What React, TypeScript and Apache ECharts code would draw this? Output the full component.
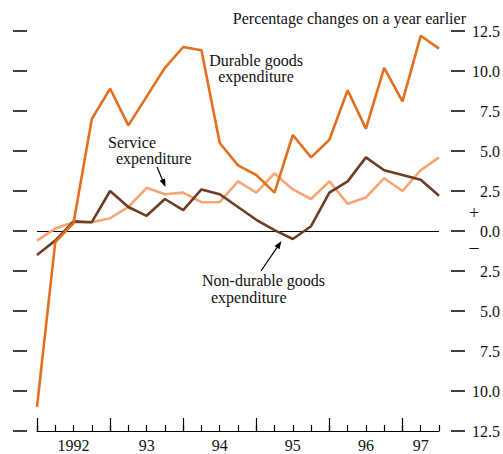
import React, { useEffect, useRef } from "react";
import * as echarts from "echarts";

const quarters = [
  "1992 Q1", "1992 Q2", "1992 Q3", "1992 Q4",
  "1993 Q1", "1993 Q2", "1993 Q3", "1993 Q4",
  "1994 Q1", "1994 Q2", "1994 Q3", "1994 Q4",
  "1995 Q1", "1995 Q2", "1995 Q3", "1995 Q4",
  "1996 Q1", "1996 Q2", "1996 Q3", "1996 Q4",
  "1997 Q1", "1997 Q2", "1997 Q3",
];

// label shown at the given category index
const yearLabelIndex = [2, 6, 10, 14, 18, 21];
const yearLabels = ["1992", "93", "94", "95", "96", "97"];

const durable = [-11.0, -0.7, 0.5, 7.0, 8.9, 6.6, 8.4, 10.2, 11.5, 11.3, 5.5, 4.1, 3.5, 2.4, 6.0, 4.6, 5.7, 8.8, 6.4, 10.2, 8.1, 12.2, 11.4];
const nonDurable = [-1.5, -0.6, 0.6, 0.55, 2.5, 1.5, 0.95, 2.0, 1.3, 2.6, 2.3, 1.5, 0.7, 0.05, -0.5, 0.3, 2.4, 3.1, 4.6, 3.8, 3.5, 3.2, 2.2];
const service = [-0.6, 0.15, 0.55, 0.55, 0.8, 1.5, 2.7, 2.3, 2.4, 1.8, 1.8, 3.1, 2.4, 3.6, 2.6, 2.0, 3.1, 1.7, 2.1, 3.3, 2.5, 3.8, 4.6];

const FONT = "'Liberation Serif', 'Times New Roman', serif";
const FS = 16;

function arrow(x1: number, y1: number, x2: number, y2: number) {
  const dx = x2 - x1;
  const dy = y2 - y1;
  const len = Math.sqrt(dx * dx + dy * dy);
  const ux = dx / len;
  const uy = dy / len;
  const hl = 8;
  const hw = 3;
  const bx = x2 - ux * hl;
  const by = y2 - uy * hl;
  return [
    {
      type: "line",
      shape: { x1, y1, x2: bx + ux * 2, y2: by + uy * 2 },
      style: { stroke: "#000", lineWidth: 1.2 },
      silent: true,
    },
    {
      type: "polygon",
      shape: {
        points: [
          [x2, y2],
          [bx - uy * hw, by + ux * hw],
          [bx + uy * hw, by - ux * hw],
        ],
      },
      style: { fill: "#000" },
      silent: true,
    },
  ];
}

function txt(x: number, y: number, text: string, align: string = "left", size: number = FS) {
  return {
    type: "text",
    x,
    y,
    silent: true,
    style: {
      text,
      fill: "#111",
      font: `${size}px ${FONT}`,
      textAlign: align,
      textVerticalAlign: "middle",
    },
  };
}

// two-line annotation; second line indented by `indent` px (left aligned) or centred
function txt2(x: number, y: number, l1: string, l2: string, align: string, indent: number, lh: number) {
  return {
    type: "text",
    x,
    y,
    silent: true,
    style: {
      text: `{a|${l1}}\n{b|${l2}}`,
      fill: "#111",
      font: `${FS}px ${FONT}`,
      textAlign: align,
      textVerticalAlign: "middle",
      rich: {
        a: { fontFamily: FONT, fontSize: FS, lineHeight: lh, fill: "#111" },
        b: { fontFamily: FONT, fontSize: FS, lineHeight: lh, fill: "#111", padding: [0, 0, 0, indent] },
      },
    },
  };
}

export default function App() {
  const ref = useRef<HTMLDivElement>(null);

  useEffect(() => {
    if (!ref.current) return;
    const chart = echarts.init(ref.current, undefined, { renderer: "svg" });

    const lineSeries = (name: string, data: number[], color: string, extra: any = {}) => ({
      name,
      type: "line",
      data,
      xAxisIndex: 0,
      yAxisIndex: 0,
      symbol: "none",
      lineStyle: { color, width: 2.6 },
      itemStyle: { color },
      z: 3,
      ...extra,
    });

    chart.setOption({
      animation: false,
      backgroundColor: "#fff",
      textStyle: { fontFamily: FONT },
      grid: { left: 37, right: 62, top: 31, bottom: 23 },
      xAxis: [
        {
          type: "category",
          data: quarters,
          boundaryGap: false,
          position: "bottom",
          axisLine: { show: true, onZero: false, lineStyle: { color: "#000", width: 1.2 } },
          axisTick: { show: true, inside: true, length: 6, interval: 0, lineStyle: { color: "#000", width: 1.2 } },
          axisLabel: {
            show: true,
            interval: 0,
            margin: 6,
            color: "#111",
            fontFamily: FONT,
            fontSize: FS,
            formatter: (_v: string, i: number) => {
              const k = yearLabelIndex.indexOf(i);
              return k >= 0 ? yearLabels[k] : "";
            },
          },
          splitLine: { show: false },
        },
        {
          type: "category",
          data: quarters,
          boundaryGap: false,
          position: "bottom",
          offset: 0,
          axisLine: { show: false, onZero: false },
          axisTick: { show: true, inside: true, length: 13, interval: 3, lineStyle: { color: "#000", width: 1.2 } },
          axisLabel: { show: false },
          splitLine: { show: false },
        },
      ],
      yAxis: [
        {
          type: "value",
          min: -12.5,
          max: 12.5,
          interval: 2.5,
          position: "left",
          offset: 10,
          axisLine: { show: false },
          axisTick: { show: true, length: 14, lineStyle: { color: "#000", width: 1.5 } },
          axisLabel: { show: false },
          splitLine: { show: false },
        },
        {
          type: "value",
          min: -12.5,
          max: 12.5,
          interval: 2.5,
          position: "right",
          offset: 12,
          axisLine: { show: false },
          axisTick: { show: true, length: 14, lineStyle: { color: "#000", width: 1.5 } },
          axisLabel: {
            show: true,
            margin: 49,
            align: "right",
            color: "#111",
            fontFamily: FONT,
            fontSize: FS,
            formatter: (v: number) => Math.abs(v).toFixed(1),
          },
          splitLine: { show: false },
        },
      ],
      series: [
        lineSeries("Service expenditure", service, "#F9A475", {
          markLine: {
            silent: true,
            symbol: "none",
            label: { show: false },
            lineStyle: { color: "#000", width: 1.2, type: "solid" },
            data: [{ yAxis: 0 }],
            z: 2,
          },
        }),
        lineSeries("Non-durable goods expenditure", nonDurable, "#6E3D25"),
        lineSeries("Durable goods expenditure", durable, "#E3701E"),
      ],
      graphic: [
        txt(466, 18, "Percentage changes on a year earlier", "right"),
        txt2(256, 68.5, "Durable goods", "expenditure", "center", 0, 15.5),
        txt2(108, 150, "Service", "expenditure", "left", 8, 16),
        txt2(202, 288.5, "Non-durable goods", "expenditure", "left", 9, 17),
        txt(474, 213, "+", "center", 18),
        txt(474, 247, "\u2013", "center", 18),
        ...arrow(157, 167, 165.5, 187),
        ...arrow(261, 271, 281.5, 241),
      ],
    });

    return () => chart.dispose();
  }, []);

  return (
    <div
      ref={ref}
      style={{ position: "fixed", left: 0, top: 0, width: 503, height: 454, background: "#fff" }}
    />
  );
}
